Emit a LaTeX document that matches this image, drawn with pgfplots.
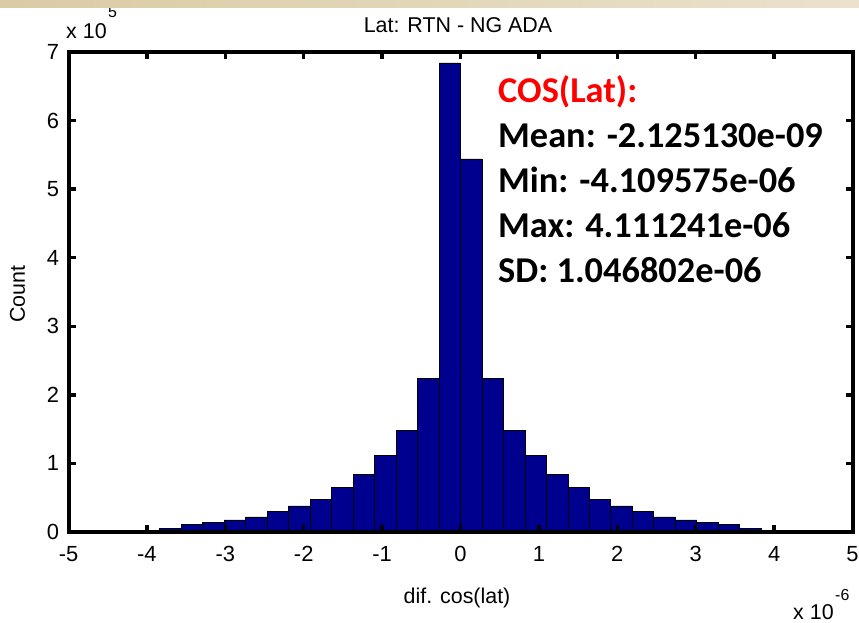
\documentclass[border=0pt]{standalone}
\usepackage{fontspec}
\setmainfont{Liberation Sans}
\newfontfamily\calib{Carlito}
\usepackage{pgfplots}
\pgfplotsset{compat=1.18}
\definecolor{BarBlue}{HTML}{00008F}
\definecolor{StripL}{HTML}{D9CBA4}
\definecolor{StripR}{HTML}{EAE2CC}

\begin{document}
\begin{tikzpicture}
\path[use as bounding box, fill=white] (0bp,0bp) rectangle (859bp,623bp);
\begin{axis}[
  at={(68.5bp,91bp)}, anchor=south west,
  scale only axis, width=784bp, height=480bp,
  xmin=-5, xmax=5, ymin=0, ymax=7,
  xtick={-5,-4,...,5}, ytick={0,1,...,7},
  xticklabels={-5,-4,-3,-2,-1,0,1,2,3,4,5},
  yticklabels={0,1,2,3,4,5,6,7},
  scaled ticks=false,
  tick align=inside,
  major tick length=7bp,
  axis on top,
  axis line style={line width=4bp, black},
  tick style={line width=3.5bp, black},
  tick label style={font=\fontsize{22}{24}\selectfont},
  xticklabel style={yshift=-11bp},
  yticklabel style={xshift=-6bp},
]
  \addplot[ybar interval, fill=BarBlue, draw=black, line width=0.8bp] coordinates {
    (-4.110,0.003) (-3.836,0.050) (-3.562,0.110) (-3.288,0.140)
    (-3.014,0.175) (-2.740,0.220) (-2.466,0.300) (-2.192,0.380)
    (-1.918,0.480) (-1.644,0.656) (-1.370,0.845) (-1.096,1.120)
    (-0.822,1.480) (-0.548,2.235) (-0.274,6.840) (0.000,5.440)
    (0.274,2.235) (0.548,1.480) (0.822,1.120) (1.096,0.845)
    (1.370,0.656) (1.644,0.480) (1.918,0.380) (2.192,0.300)
    (2.466,0.220) (2.740,0.175) (3.014,0.140) (3.288,0.110)
    (3.562,0.050) (3.836,0.003) (4.110,0.003)
  };
\end{axis}
% labels
\node[font=\fontsize{21.5}{24}\selectfont] at (458bp,598bp) {Lat: RTN - NG ADA};
\node[font=\fontsize{21.5}{24}\selectfont] at (457bp,25bp) {dif. cos(lat)};
\node[font=\fontsize{21.5}{24}\selectfont, rotate=90] at (17.5bp,329bp) {Count};
\node[font=\fontsize{21.5}{24}\selectfont, anchor=west, inner sep=0pt] at (66bp,591.5bp) {x 10};
\node[font=\fontsize{16}{18}\selectfont, anchor=west, inner sep=0pt] at (108bp,611bp) {5};
\node[font=\fontsize{21.5}{24}\selectfont, anchor=west, inner sep=0pt] at (793bp,11bp) {x 10};
\node[font=\fontsize{16}{18}\selectfont, anchor=west, inner sep=0pt] at (835bp,28bp) {-6};
% statistics box
\begin{scope}[every node/.style={anchor=base west, inner sep=0pt, font=\calib\bfseries\fontsize{36.5}{40}\selectfont}]
\node[text=red] at (498bp,520bp) {COS(Lat):};
\node at (498bp,475bp) {Mean: -2.125130e-09};
\node at (498bp,430bp) {Min: -4.109575e-06};
\node at (498bp,385bp) {Max: 4.111241e-06};
\node at (498bp,340bp) {SD: 1.046802e-06};
\end{scope}
\shade[left color=StripL, right color=StripR] (0bp,615bp) rectangle (859bp,623bp);
\end{tikzpicture}
\end{document}
